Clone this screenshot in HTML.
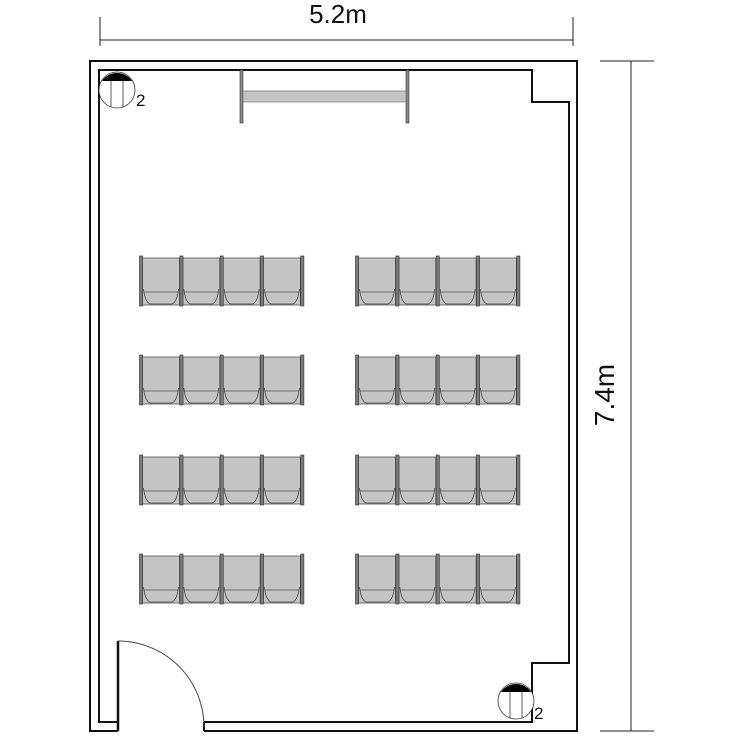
<!DOCTYPE html>
<html><head><meta charset="utf-8"><style>
html,body{margin:0;padding:0;background:#fff;}
svg{display:block;}
</style></head><body>
<svg width="750" height="750" viewBox="0 0 750 750" xmlns="http://www.w3.org/2000/svg">
<defs>
<g id="seat">
  <rect x="1.5" y="2" width="37" height="47" fill="#c4c4c4" stroke="#555" stroke-width="0.8"/>
  <line x1="3" y1="36" x2="37" y2="36" stroke="#555" stroke-width="0.8"/>
  <path d="M2.5 33 Q4 46 9 48 L31 48 Q36 46 37.5 33" fill="none" stroke="#444" stroke-width="0.8"/>
</g>
<g id="bar"><rect x="-1.5" y="0" width="3.2" height="50" fill="#7a7a7a" stroke="#333" stroke-width="0.6"/></g>
<g id="bench">
  <use href="#seat" x="0"/><use href="#seat" x="40.3"/><use href="#seat" x="80.6"/><use href="#seat" x="120.9"/>
  <use href="#bar" x="0"/><use href="#bar" x="40.3"/><use href="#bar" x="80.6"/><use href="#bar" x="120.9"/><use href="#bar" x="161.2"/>
</g>
<g id="outlet">
  <circle cx="0" cy="0" r="18" fill="#fff" stroke="#333" stroke-width="0.8"/>
  <path d="M-15 -9 A18 18 0 0 1 15 -9 Z" fill="#000"/>
  <line x1="-6" y1="-9" x2="-6" y2="17" stroke="#333" stroke-width="0.8"/>
  <line x1="6" y1="-9" x2="6" y2="17" stroke="#333" stroke-width="0.8"/>
</g>
</defs>

<line x1="100" y1="40" x2="573" y2="40" stroke="#222" stroke-width="1"/>
<line x1="100" y1="17" x2="100" y2="46" stroke="#222" stroke-width="1"/>
<line x1="573" y1="17" x2="573" y2="46" stroke="#222" stroke-width="1"/>
<text x="338" y="23" font-family="Liberation Sans, sans-serif" font-size="26" text-anchor="middle" fill="#111">5.2m</text>

<line x1="631" y1="61" x2="631" y2="731" stroke="#222" stroke-width="1"/>
<line x1="600" y1="61" x2="654" y2="61" stroke="#222" stroke-width="1"/>
<line x1="600" y1="731" x2="654" y2="731" stroke="#222" stroke-width="1"/>
<text transform="translate(614,395) rotate(-90)" font-family="Liberation Sans, sans-serif" font-size="28" text-anchor="middle" fill="#111">7.4m</text>

<path d="M118 731 L90 731 L90 61 L577 61 L577 731 L204 731" fill="none" stroke="#111" stroke-width="2"/>
<path d="M118 722 L99 722 L99 70 L532 70 L532 102 L569 102 L569 663 L532 663 L532 722 L204 722" fill="none" stroke="#111" stroke-width="2"/>
<line x1="204" y1="722" x2="204" y2="731" stroke="#111" stroke-width="2"/>
<line x1="118" y1="641" x2="118" y2="731" stroke="#111" stroke-width="2.5"/>
<path d="M118 641 A86 86 0 0 1 204 727" fill="none" stroke="#444" stroke-width="1"/>

<rect x="240" y="70" width="3" height="53" fill="#888" stroke="#333" stroke-width="0.6"/>
<rect x="406" y="70" width="3" height="53" fill="#888" stroke="#333" stroke-width="0.6"/>
<rect x="243" y="91" width="163" height="11" fill="#c4c4c4" stroke="#666" stroke-width="0.6"/>

<use href="#outlet" x="117" y="90"/>
<text x="136" y="106" font-family="Liberation Sans, sans-serif" font-size="17" fill="#111">2</text>
<use href="#outlet" x="516" y="701"/>
<text x="534" y="719" font-family="Liberation Sans, sans-serif" font-size="17" fill="#111">2</text>

<use href="#bench" x="141" y="256"/><use href="#bench" x="357" y="256"/>
<use href="#bench" x="141" y="355"/><use href="#bench" x="357" y="355"/>
<use href="#bench" x="141" y="455"/><use href="#bench" x="357" y="455"/>
<use href="#bench" x="141" y="554"/><use href="#bench" x="357" y="554"/>
</svg>
</body></html>
